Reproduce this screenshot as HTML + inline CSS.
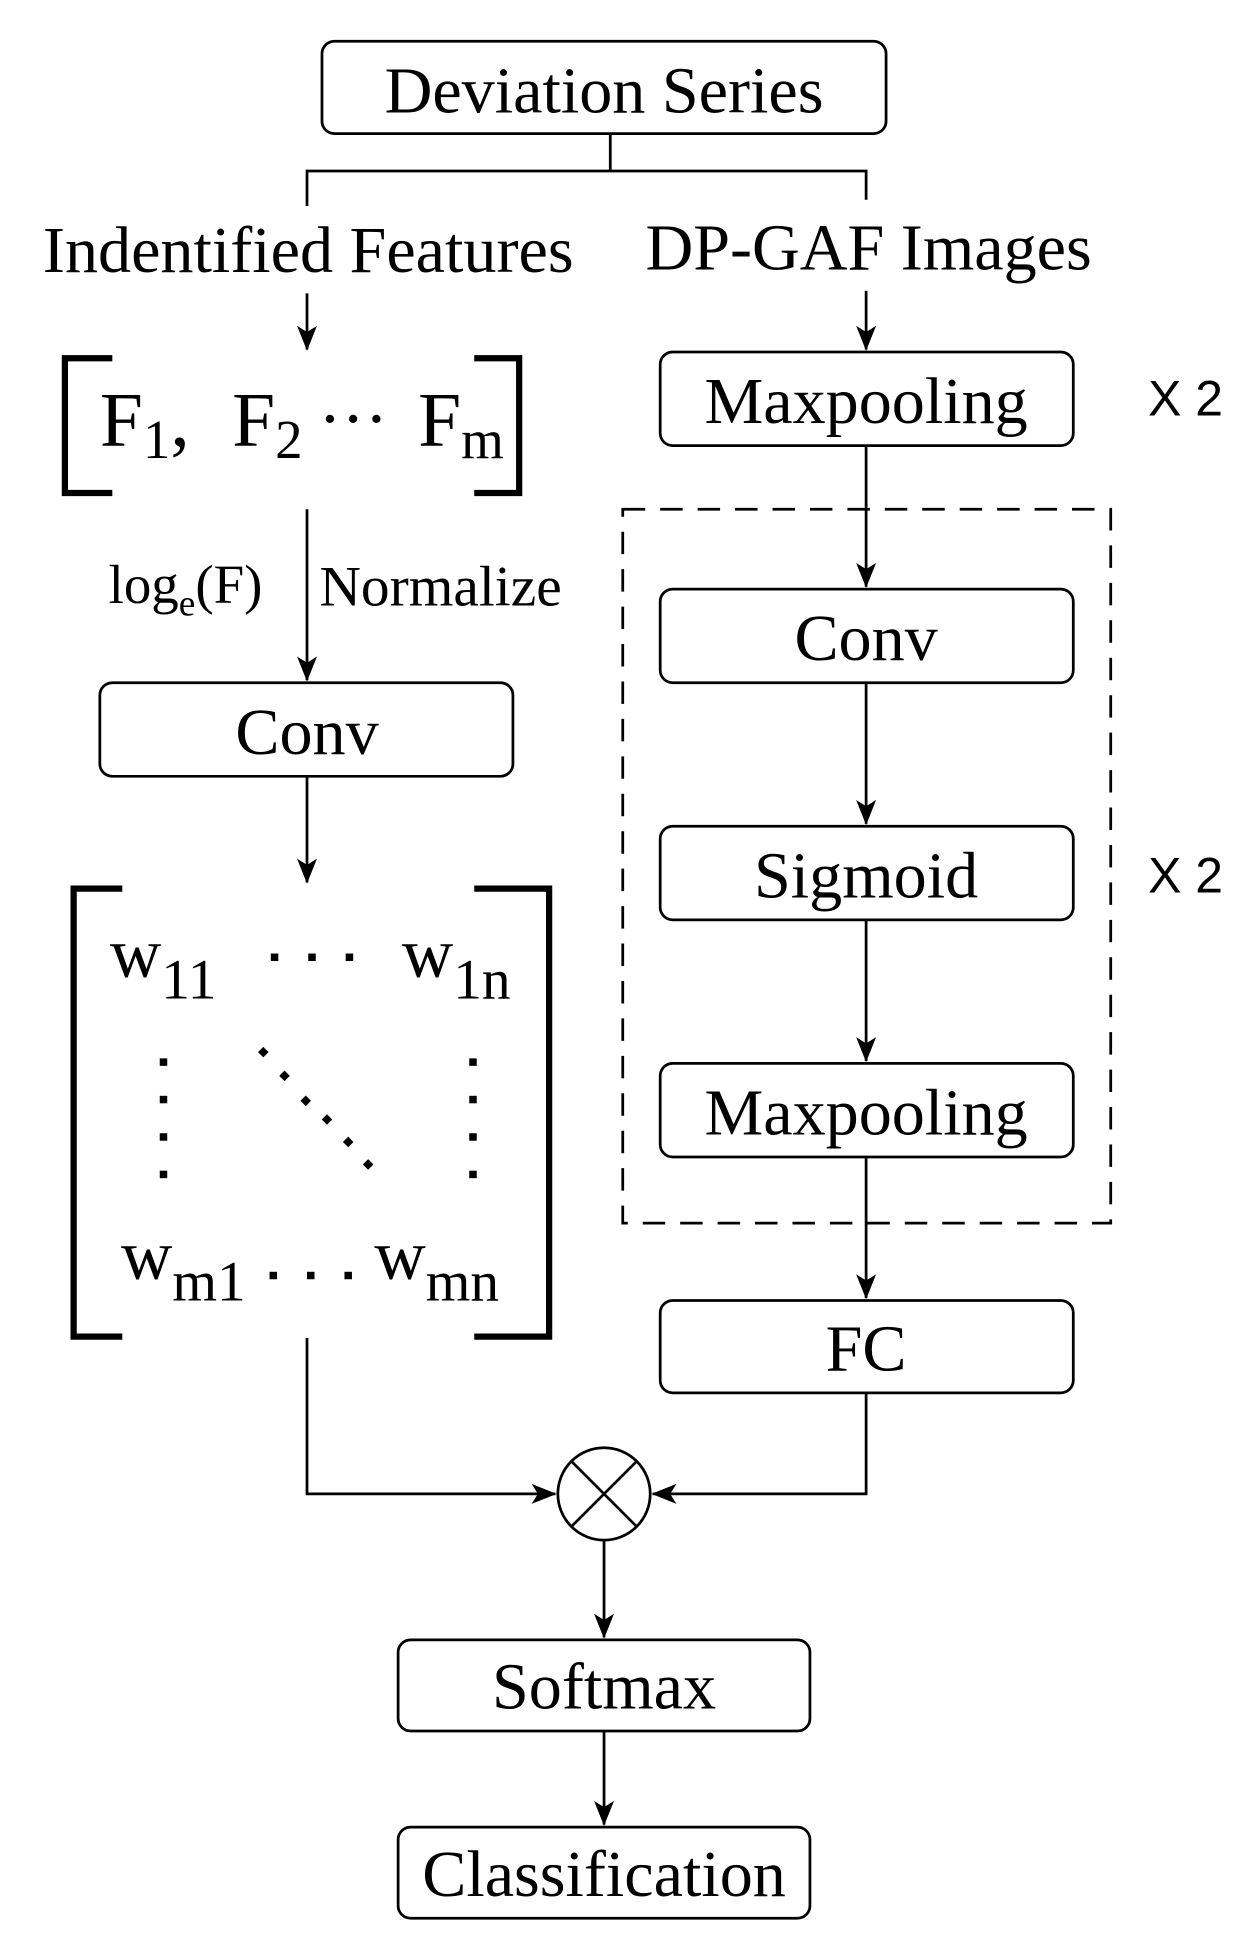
<!DOCTYPE html>
<html><head><meta charset="utf-8"><style>
html,body{margin:0;padding:0;background:#fff;}
svg{display:block;}
text{font-family:"Liberation Serif",serif;fill:#000;}
.s{font-family:"Liberation Sans",sans-serif;}
</style></head><body>
<svg width="1248" height="1942" viewBox="0 0 1000 1556" xmlns="http://www.w3.org/2000/svg">
<defs>
<marker id="a" viewBox="0 0 20 20" refX="19" refY="10" markerWidth="20" markerHeight="20" markerUnits="userSpaceOnUse" orient="auto">
<path d="M0,2 L20,10 L0,18 L5,10 Z" fill="#000"/></marker>
</defs>
<g fill="none" stroke="#000" stroke-width="2.2">
<rect x="258" y="33" width="452" height="74" rx="10"/>
<rect x="80" y="547" width="331" height="75" rx="10"/>
<rect x="529" y="282" width="331" height="75" rx="10"/>
<rect x="529" y="472" width="331" height="75" rx="10"/>
<rect x="529" y="662" width="331" height="75" rx="10"/>
<rect x="529" y="852" width="331" height="75" rx="10"/>
<rect x="529" y="1042" width="331" height="74" rx="10"/>
<rect x="319" y="1314" width="330" height="73" rx="10"/>
<rect x="319" y="1464" width="330" height="73" rx="10"/>
<rect x="499" y="408" width="391" height="572" stroke-dasharray="18,12"/>
<path d="M489,107 V137 M246,165 V137 H694 V160"/>
<path d="M246,235 V280" marker-end="url(#a)"/>
<path d="M694,233 V280" marker-end="url(#a)"/>
<path d="M246,408 V545" marker-end="url(#a)"/>
<path d="M246,622 V707" marker-end="url(#a)"/>
<path d="M694,357 V470" marker-end="url(#a)"/>
<path d="M694,547 V660" marker-end="url(#a)"/>
<path d="M694,737 V850" marker-end="url(#a)"/>
<path d="M694,927 V1040" marker-end="url(#a)"/>
<path d="M246,1072 V1197 H445" marker-end="url(#a)"/>
<path d="M694,1116 V1197 H523" marker-end="url(#a)"/>
<path d="M484,1235 V1312" marker-end="url(#a)"/>
<path d="M484,1387 V1462" marker-end="url(#a)"/>
<circle cx="484" cy="1197" r="37"/>
<path d="M458,1171 L510,1223 M510,1171 L458,1223"/>
</g>
<g fill="none" stroke="#000" stroke-width="5">
<path d="M90,287 H52 V395 H90"/>
<path d="M380,287 H416 V395 H380"/>
<path d="M98,712 H59 V1071 H98"/>
<path d="M380,712 H440 V1071 H380"/>
</g>
<g font-size="53" text-anchor="middle">
<text x="484" y="90">Deviation Series</text>
<text x="246" y="604">Conv</text>
<text x="694" y="339">Maxpooling</text>
<text x="694" y="529">Conv</text>
<text x="694" y="719">Sigmoid</text>
<text x="694" y="909">Maxpooling</text>
<text x="694" y="1098">FC</text>
<text x="484" y="1369">Softmax</text>
<text x="484" y="1519">Classification</text>
<text x="247" y="218">Indentified Features</text>
<text x="696" y="216">DP-GAF Images</text>
</g>
<text class="s" x="920" y="333" font-size="40">X 2</text>
<text class="s" x="920" y="715" font-size="40">X 2</text>
<text x="80" y="357" font-size="62">F<tspan font-size="44" dy="10">1</tspan><tspan dy="-10">,</tspan></text>
<text x="186" y="357" font-size="62">F<tspan font-size="44" dy="10">2</tspan></text>
<text x="255" y="354" font-size="56">···</text>
<text x="335" y="357" font-size="62">F<tspan font-size="44" dy="10">m</tspan></text>
<text x="87" y="483" font-size="44">log<tspan font-size="30" dy="10">e</tspan><tspan dy="-10">(F)</tspan></text>
<text x="256" y="485" font-size="46">Normalize</text>
<text x="88" y="783" font-size="57">w<tspan font-size="46" dy="17">11</tspan></text>
<text x="322" y="783" font-size="57">w<tspan font-size="46" dy="17">1n</tspan></text>
<text x="97" y="1025" font-size="57">w<tspan font-size="46" dy="17">m1</tspan></text>
<text x="300" y="1025" font-size="57">w<tspan font-size="46" dy="17">mn</tspan></text>
<g fill="#000">
<rect x="128" y="848" width="6" height="6"/><rect x="128" y="878" width="6" height="6"/><rect x="128" y="908" width="6" height="6"/><rect x="128" y="938" width="6" height="6"/>
<rect x="376" y="848" width="6" height="6"/><rect x="376" y="878" width="6" height="6"/><rect x="376" y="908" width="6" height="6"/><rect x="376" y="938" width="6" height="6"/>
<rect x="217" y="764" width="6" height="6"/><rect x="247" y="764" width="6" height="6"/><rect x="277" y="764" width="6" height="6"/>
<rect x="216" y="1019" width="6" height="6"/><rect x="246" y="1019" width="6" height="6"/><rect x="276" y="1019" width="6" height="6"/>
<rect x="-3" y="-3" width="6" height="6" transform="translate(211,843) rotate(45)"/>
<rect x="-3" y="-3" width="6" height="6" transform="translate(228,862) rotate(45)"/>
<rect x="-3" y="-3" width="6" height="6" transform="translate(245,882) rotate(45)"/>
<rect x="-3" y="-3" width="6" height="6" transform="translate(262,897) rotate(45)"/>
<rect x="-3" y="-3" width="6" height="6" transform="translate(279,915) rotate(45)"/>
<rect x="-3" y="-3" width="6" height="6" transform="translate(295,933) rotate(45)"/>
</g>
</svg>
</body></html>
